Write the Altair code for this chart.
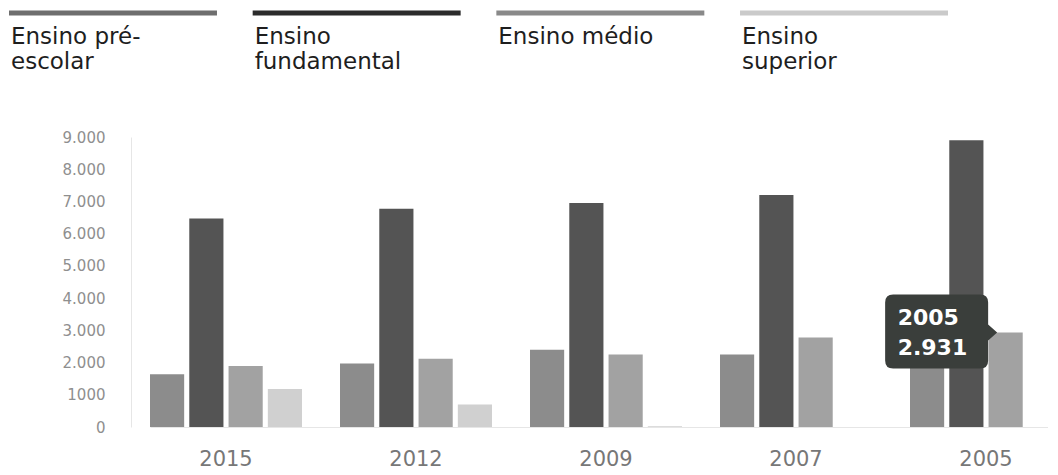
import altair as alt
import pandas as pd

# ---- data ----
years = ["2015", "2012", "2009", "2007", "2005"]
series = ["Ensino pré-escolar", "Ensino fundamental", "Ensino médio", "Ensino superior"]
legend_labels = ["Ensino pré-\nescolar", "Ensino\nfundamental", "Ensino médio", "Ensino\nsuperior"]
y_ticks = [0, 1000, 2000, 3000, 4000, 5000, 6000, 7000, 8000, 9000]

pre_escolar = [1640, 1970, 2400, 2250, 2400]
fundamental = [6470, 6770, 6950, 7200, 8900]
medio = [1890, 2120, 2250, 2780, 2931]
superior = [1180, 700, 20, None, None]

tooltip_year = "2005"
tooltip_series = "Ensino médio"

# ---- styles ----
bar_colors = ["#8c8c8c", "#545454", "#a2a2a2", "#d0d0d0"]
legend_colors = ["#6e6e6e", "#2b2b2b", "#898989", "#cacaca"]

rows = []
for i, y in enumerate(years):
    for s, vals in zip(series, [pre_escolar, fundamental, medio, superior]):
        if vals[i] is not None:
            rows.append({"ano": y, "nivel": s, "valor": vals[i]})
df = pd.DataFrame(rows)

sel = df[(df["ano"] == tooltip_year) & (df["nivel"] == tooltip_series)].copy()
sel["rotulo"] = sel.apply(
    lambda r: f"{r['ano']}\n{int(r['valor']) // 1000}.{int(r['valor']) % 1000:03d}", axis=1
)

leg_df = pd.DataFrame({"nivel": series, "rotulo": legend_labels})

xscale = alt.Scale(domain=years, range=[19, 931], paddingInner=0.2, paddingOuter=0)
offscale = alt.Scale(domain=series, paddingInner=0.13, paddingOuter=0)
yscale = alt.Scale(domain=[0, 9000], nice=False)

label_expr = (
    "datum.value == 1000 ? '1000' : replace(format(datum.value, ','), ',', '.')"
)

x_axis = alt.Axis(
    title=None,
    ticks=False,
    labelAngle=0,
    labelColor="#777777",
    labelFont="DejaVu Sans",
    labelFontSize=21,
    labelPadding=21,
    domainColor="#e6e6e6",
)
y_axis = alt.Axis(
    title=None,
    values=y_ticks,
    labelExpr=label_expr,
    labelOverlap=False,
    labelFlush=False,
    ticks=False,
    grid=False,
    domainColor="#e6e6e6",
    labelColor="#8f8f8f",
    labelFont="DejaVu Sans",
    labelFontSize=15,
    labelPadding=26,
)

X = alt.X("ano:N", scale=xscale, sort=years, axis=x_axis)
XO = alt.XOffset("nivel:N", scale=offscale, sort=series)
Y = alt.Y("valor:Q", scale=yscale, axis=y_axis)

bars = alt.Chart(df).mark_bar().encode(
    x=X,
    xOffset=XO,
    y=Y,
    color=alt.Color("nivel:N", scale=alt.Scale(domain=series, range=bar_colors), legend=None),
)

box_path = (
    "M -2.25,-0.76 L -0.51,-0.76 Q -0.35,-0.76 -0.35,-0.60 L -0.35,-0.16 "
    "L -0.17,0 L -0.35,0.16 L -0.35,0.56 Q -0.35,0.72 -0.51,0.72 "
    "L -2.25,0.72 Q -2.41,0.72 -2.41,0.56 L -2.41,-0.60 Q -2.41,-0.76 -2.25,-0.76 Z"
)

box = alt.Chart(sel).mark_point(
    shape=box_path, size=10000, filled=True, fill="#3a3e3b", opacity=1, strokeWidth=0
).encode(x=X, xOffset=XO, y=Y)

box_text = alt.Chart(sel).mark_text(
    align="left",
    baseline="middle",
    lineBreak="\n",
    lineHeight=30,
    dx=-108,
    dy=-15,
    font="DejaVu Sans",
    fontSize=22,
    fontWeight="bold",
    color="white",
).encode(x=X, xOffset=XO, y=Y, text="rotulo:N")

inner = alt.layer(bars, box, box_text)

legend_x = alt.Scale(domain=series, range=[-122, 817], paddingInner=0.1465, paddingOuter=0)
legend_text_x = alt.Scale(type="point", domain=series, range=[-120, 611], padding=0)

leg_lines = alt.Chart(leg_df).mark_bar().encode(
    x=alt.X("nivel:N", scale=legend_x, sort=series, axis=None),
    y=alt.value(-126.5),
    y2=alt.value(-121.5),
    color=alt.Color("nivel:N", scale=alt.Scale(domain=series, range=legend_colors), legend=None),
)

leg_text = alt.Chart(leg_df).mark_text(
    align="left",
    baseline="alphabetic",
    lineBreak="\n",
    lineHeight=25,
    font="DejaVu Sans",
    fontSize=23,
    color="#1e1e1e",
).encode(
    x=alt.X("nivel:N", scale=legend_text_x, sort=series, axis=None),
    y=alt.value(-93),
    text="rotulo:N",
)

chart = (
    alt.layer(inner, leg_lines, leg_text)
    .resolve_scale(x="independent", color="independent")
    .properties(
        width=909,
        height=290,
        padding={"left": 1, "top": 2, "right": 5, "bottom": 0},
        background="white",
    )
    .configure_view(stroke=None)
)

chart.save("out.html", embed_options={"renderer": "svg", "actions": False})
